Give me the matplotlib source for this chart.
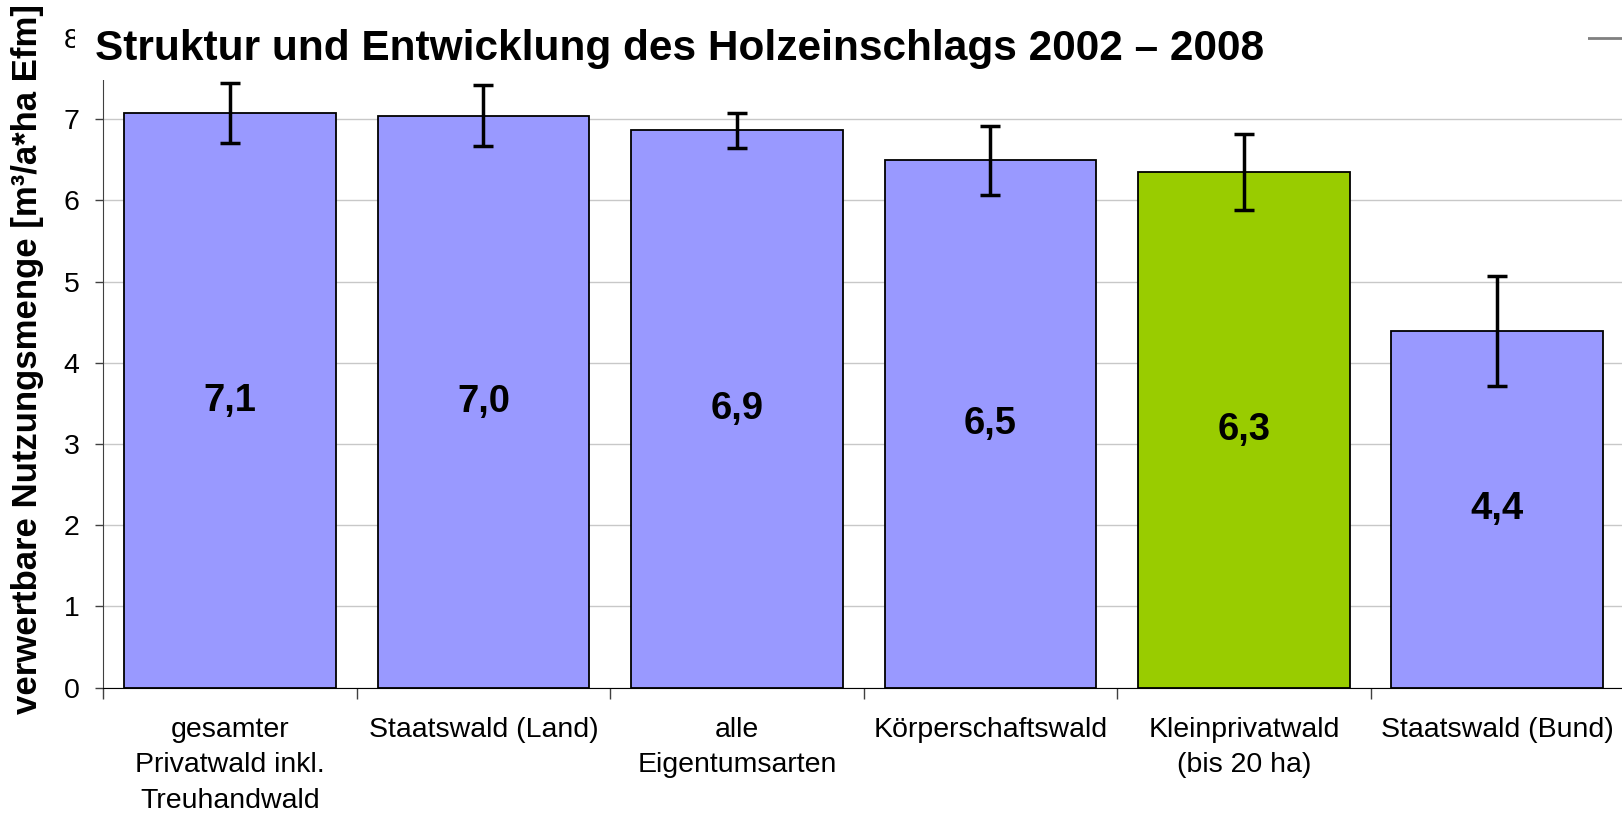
import matplotlib.pyplot as plt
from matplotlib.patches import Rectangle

categories = ["gesamter\nPrivatwald inkl.\nTreuhandwald", "Staatswald (Land)", "alle\nEigentumsarten",
              "Körperschaftswald", "Kleinprivatwald\n(bis 20 ha)", "Staatswald (Bund)"]
values = [7.07, 7.04, 6.86, 6.49, 6.35, 4.39]
errors = [0.37, 0.375, 0.22, 0.43, 0.465, 0.68]
value_labels = ["7,1", "7,0", "6,9", "6,5", "6,3", "4,4"]
colors = ["#9999FF", "#9999FF", "#9999FF", "#9999FF", "#99CC00", "#9999FF"]

plt.rcParams["font.family"] = ["Liberation Sans", "DejaVu Sans"]

W, H = 1622, 814
fig = plt.figure(figsize=(W / 100, H / 100), dpi=100)
ax = fig.add_axes([103.3 / W, 1 - 687.7 / H, (1624 - 103.3) / W, (687.7 - 37.8) / H])

x = list(range(len(categories)))
ax.bar(x, values, width=0.835, color=colors, edgecolor="black", linewidth=1.3, zorder=2)
ax.errorbar(x, values, yerr=errors, fmt="none", ecolor="black", elinewidth=2.5,
            capsize=7, capthick=2.5, zorder=3)
for i, v in enumerate(values):
    ax.text(i, v / 2, value_labels[i], ha="center", va="center", fontsize=27.5,
            fontweight="bold", zorder=4)

ax.set_xlim(-0.5, len(categories) - 0.5)
ax.set_ylim(0, 8)
ax.set_yticks(range(0, 9))
ax.yaxis.grid(True, color="#C8C8C8", linewidth=1, zorder=0)
ax.tick_params(axis="y", labelsize=20.5, length=6, width=1, pad=11, color="#404040")

ax.set_xticks(x)
ax.set_xticklabels(categories, fontsize=20.5, linespacing=1.48)
ax.set_xticks([i + 0.5 for i in range(-1, len(categories))], minor=True)
ax.tick_params(axis="x", which="major", length=0, pad=21)
ax.tick_params(axis="x", which="minor", length=8, width=1, color="#404040")

ax.spines["right"].set_visible(False)
ax.spines["top"].set_color("#808080")
ax.spines["top"].set_linewidth(2)
ax.spines["left"].set_color("#404040")
ax.spines["bottom"].set_color("black")

# white title box covering the top of the plot area
fig.patches.append(Rectangle((75 / W, 1 - 80 / H), (1588 - 75) / W, 80 / H,
                             transform=fig.transFigure, facecolor="white",
                             edgecolor="none", zorder=5))
fig.text(95 / W, 1 - 60 / H, "Struktur und Entwicklung des Holzeinschlags 2002 – 2008",
         fontsize=30.5, fontweight="bold", ha="left", va="baseline", zorder=6)

fig.text(28 / W, 1 - 359 / H, "verwertbare Nutzungsmenge [m³/a*ha Efm]",
         fontsize=25, fontweight="bold", rotation=90, ha="center", va="center")

fig.savefig("out.png", dpi=100)
